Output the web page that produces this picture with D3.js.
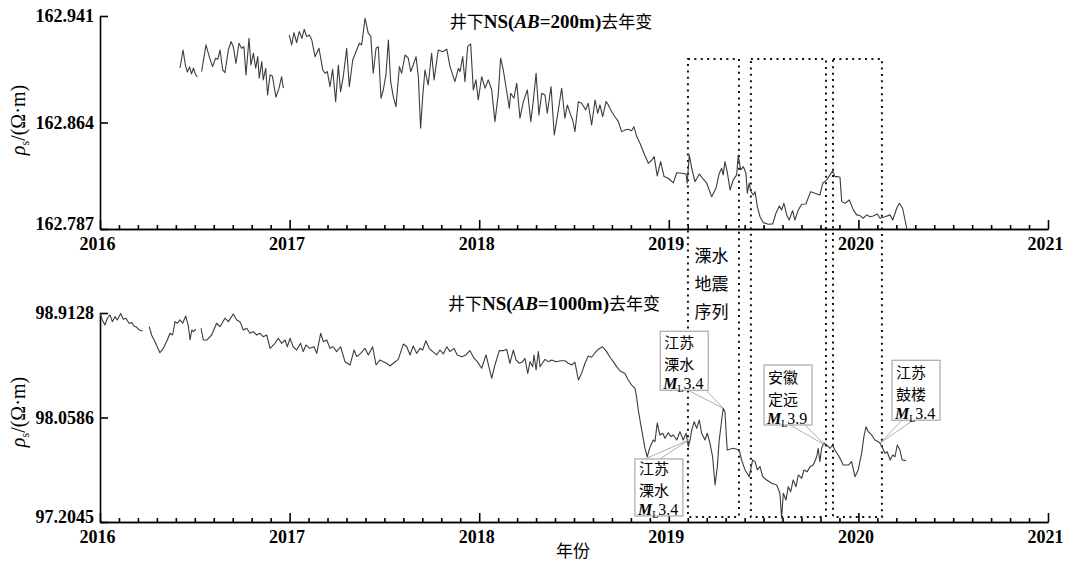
<!DOCTYPE html>
<html>
<head>
<meta charset="utf-8">
<script src="https://cdn.jsdelivr.net/npm/d3@7"></script>
<style>
  body { margin: 0; background: #fff; }
  .tick text { font-family: "Liberation Serif", serif; font-weight: bold; font-size: 18px; fill: #000; }
  .domain, .tick line { stroke: #000; stroke-width: 1.6; }
</style>
</head>
<body>
<div id="chart"></div>
<script>
let width = 1071;
let height = 562;

////////////////////////////////
//   Data
////////////////////////////////
// [decimal year, rho_s]; null marks a gap in the record
let shallowSeries = [
  [2016.422,162.9034],[2016.438,162.9164],[2016.451,162.9049],[2016.461,162.9005],[2016.472,162.9042],[2016.483,162.8991],[2016.493,162.9034],[2016.501,162.8998],[2016.512,162.8969],
  [2016.524,null],
  [2016.536,162.9008],[2016.559,162.9201],[2016.576,162.9116],[2016.594,162.9044],[2016.610,162.9105],[2016.621,162.9097],[2016.633,162.9164],[2016.647,162.9020],[2016.659,162.9000],[2016.677,162.9164],
  [2016.691,162.9225],[2016.703,162.9188],[2016.717,162.9068],[2016.733,162.9213],[2016.747,162.9177],[2016.759,162.9188],[2016.770,162.8984],[2016.786,162.9249],[2016.796,162.9056],[2016.809,162.9141],
  [2016.821,162.9032],[2016.832,162.9116],[2016.840,162.8960],[2016.853,162.9080],[2016.861,162.8948],[2016.874,162.9032],[2016.884,162.8839],[2016.897,162.8984],[2016.909,162.8977],[2016.928,162.8823],
  [2016.944,162.8888],[2016.958,162.8971],[2016.967,162.8888],
  [2016.980,null],
  [2016.998,162.9273],[2017.011,162.9201],[2017.023,162.9290],[2017.037,162.9217],[2017.051,162.9297],[2017.065,162.9249],[2017.077,162.9314],[2017.090,162.9261],[2017.104,162.9273],[2017.117,162.9237],
  [2017.134,162.9116],[2017.155,162.9177],[2017.175,162.9020],[2017.187,162.8996],[2017.199,162.9008],[2017.213,162.8899],[2017.227,162.9025],[2017.243,162.8791],[2017.257,162.9056],[2017.269,162.8863],
  [2017.283,162.8971],[2017.301,162.9177],[2017.315,162.8899],[2017.333,162.9092],[2017.350,162.9152],[2017.368,162.9213],[2017.380,162.9201],[2017.398,162.9394],[2017.415,162.9285],[2017.428,162.9266],
  [2017.441,162.8996],[2017.456,162.9177],[2017.468,162.9188],[2017.482,162.8815],[2017.494,162.8875],[2017.508,162.8984],[2017.521,162.9237],[2017.533,162.8935],[2017.547,162.8827],[2017.561,162.8755],
  [2017.579,162.9044],[2017.591,162.8996],[2017.609,162.9128],[2017.626,162.9105],[2017.639,162.9008],[2017.652,162.9056],[2017.667,162.9116],[2017.679,162.8971],[2017.691,162.8598],[2017.702,162.8827],
  [2017.714,162.9020],[2017.731,162.8911],[2017.749,162.9141],[2017.762,162.8948],[2017.784,162.9164],[2017.807,162.9152],[2017.829,162.9170],[2017.846,162.9044],[2017.872,162.8935],[2017.890,162.9032],
  [2017.899,162.9008],[2017.913,162.9116],[2017.925,162.8935],[2017.939,162.9188],[2017.955,162.9208],[2017.969,162.8875],[2017.983,162.8948],[2017.995,162.8803],[2018.013,162.8971],[2018.031,162.8888],
  [2018.048,162.8948],[2018.066,162.8875],[2018.083,162.8646],[2018.101,162.8851],[2018.113,162.9105],[2018.127,162.9020],[2018.148,162.8839],[2018.159,162.8743],[2018.166,162.8851],[2018.183,162.8815],
  [2018.198,162.8924],[2018.215,162.8671],[2018.233,162.8791],[2018.254,162.8875],[2018.272,162.8646],[2018.285,162.8791],[2018.300,162.8996],[2018.315,162.8695],[2018.330,162.8851],[2018.347,162.8839],
  [2018.359,162.8707],[2018.379,162.8899],[2018.396,162.8550],[2018.412,162.8682],[2018.435,162.8888],[2018.452,162.8671],[2018.465,162.8767],[2018.482,162.8695],[2018.493,162.8658],[2018.505,162.8574],
  [2018.523,162.8791],[2018.540,162.8779],[2018.562,162.8731],[2018.575,162.8779],[2018.593,162.8622],[2018.611,162.8803],[2018.625,162.8707],[2018.637,162.8767],[2018.651,162.8682],[2018.669,162.8791],
  [2018.681,162.8767],[2018.699,162.8718],[2018.716,162.8682],[2018.734,162.8646],[2018.751,162.8574],[2018.769,162.8586],[2018.786,162.8591],[2018.804,162.8581],[2018.816,162.8610],[2018.831,162.8538],
  [2018.848,162.8490],[2018.869,162.8418],[2018.892,162.8345],[2018.910,162.8369],[2018.923,162.8393],[2018.939,162.8254],[2018.957,162.8357],[2018.975,162.8249],[2018.997,162.8237],[2019.024,162.8203],
  [2019.042,162.8277],[2019.068,162.8273],[2019.091,162.8268],[2019.097,162.8201],[2019.108,162.8405],[2019.121,162.8309],[2019.138,162.8212],[2019.161,162.8268],[2019.182,162.8230],[2019.200,162.8201],
  [2019.226,162.8104],[2019.249,162.8165],[2019.266,162.8273],[2019.279,162.8309],[2019.287,162.8261],[2019.296,162.8357],[2019.308,162.8285],[2019.323,162.8152],[2019.340,162.8225],[2019.358,162.8261],
  [2019.366,162.8405],[2019.379,162.8297],[2019.393,162.8321],[2019.407,162.8273],[2019.414,162.8128],[2019.424,162.8201],[2019.433,162.8140],[2019.446,162.8116],[2019.455,162.8140],[2019.467,162.8032],
  [2019.481,162.7959],[2019.498,162.7916],[2019.525,162.7904],[2019.548,162.7907],[2019.565,162.7984],[2019.583,162.8037],[2019.595,162.8008],[2019.607,162.8056],[2019.622,162.7972],[2019.635,162.7935],
  [2019.653,162.8003],[2019.665,162.7935],[2019.683,162.8008],[2019.701,162.8049],[2019.723,162.8051],[2019.748,162.8140],[2019.771,162.8128],[2019.797,162.8116],[2019.812,162.8201],[2019.833,162.8225],
  [2019.850,162.8261],[2019.864,162.8290],[2019.876,162.8249],[2019.889,162.8249],[2019.903,162.8244],[2019.912,162.8068],[2019.929,162.8056],[2019.952,162.8080],[2019.973,162.8008],[2019.991,162.7972],
  [2020.008,162.7967],[2020.026,162.7948],[2020.044,162.7972],[2020.061,162.7959],[2020.078,162.7964],[2020.100,162.7979],[2020.114,162.7948],[2020.140,162.7959],[2020.167,162.7972],[2020.181,162.7935],
  [2020.202,162.8020],[2020.216,162.8056],[2020.233,162.8020],[2020.246,162.7935],[2020.255,162.7875]
];

let deepSeries = [
  [2016.000,98.913],[2016.012,98.856],[2016.026,98.815],[2016.039,98.870],[2016.053,98.897],[2016.065,98.842],[2016.079,98.883],[2016.091,98.856],[2016.109,98.909],[2016.123,98.861],
  [2016.137,98.870],[2016.153,98.829],[2016.167,98.834],[2016.179,98.807],[2016.194,98.796],[2016.207,98.774],[2016.225,98.766],
  [2016.242,null],
  [2016.260,98.801],[2016.272,98.733],[2016.290,98.678],[2016.316,98.588],[2016.334,98.624],[2016.355,98.692],[2016.369,98.747],[2016.383,98.733],[2016.396,98.842],[2016.408,98.829],
  [2016.422,98.856],[2016.436,98.829],[2016.452,98.888],[2016.466,98.807],[2016.475,98.692],[2016.484,98.774],[2016.492,98.760],[2016.506,98.780],
  [2016.520,null],
  [2016.533,98.788],[2016.545,98.692],[2016.563,98.692],[2016.589,98.733],[2016.615,98.829],[2016.633,98.801],[2016.659,98.870],[2016.677,98.842],[2016.703,98.905],[2016.721,98.856],
  [2016.738,98.842],[2016.756,98.774],[2016.774,98.788],[2016.791,98.747],[2016.809,98.760],[2016.826,98.733],[2016.844,98.747],[2016.861,98.719],[2016.879,98.733],[2016.897,98.624],
  [2016.923,98.665],[2016.940,98.706],[2016.958,98.665],[2016.976,98.692],[2016.988,98.637],[2017.002,98.706],[2017.019,98.637],[2017.037,98.610],[2017.058,98.665],[2017.072,98.597],
  [2017.086,98.651],[2017.107,98.624],[2017.129,98.637],[2017.143,98.583],[2017.164,98.747],[2017.178,98.678],[2017.196,98.692],[2017.213,98.624],[2017.230,98.637],[2017.248,98.597],
  [2017.269,98.637],[2017.292,98.515],[2017.319,98.488],[2017.340,98.610],[2017.354,98.556],[2017.375,98.583],[2017.398,98.624],[2017.415,98.570],[2017.438,98.637],[2017.456,98.488],
  [2017.477,98.529],[2017.494,98.515],[2017.512,98.502],[2017.529,98.480],[2017.547,98.502],[2017.573,98.534],[2017.600,98.659],[2017.618,98.637],[2017.635,98.570],[2017.652,98.643],
  [2017.670,98.583],[2017.688,98.624],[2017.702,98.610],[2017.719,98.686],[2017.736,98.624],[2017.755,98.597],[2017.776,98.570],[2017.793,98.610],[2017.811,98.578],[2017.829,98.637],
  [2017.846,98.597],[2017.867,98.624],[2017.884,98.570],[2017.908,98.556],[2017.930,98.570],[2017.951,98.605],[2017.973,98.543],[2017.990,98.515],[2018.013,98.461],[2018.036,98.570],
  [2018.047,98.502],[2018.066,98.379],[2018.083,98.488],[2018.106,98.605],[2018.127,98.605],[2018.145,98.616],[2018.162,98.502],[2018.180,98.610],[2018.194,98.529],[2018.211,98.502],
  [2018.229,98.515],[2018.241,98.543],[2018.256,98.419],[2018.268,98.515],[2018.282,98.474],[2018.289,98.570],[2018.300,98.447],[2018.312,98.597],[2018.321,98.474],[2018.333,98.502],
  [2018.347,98.534],[2018.364,98.515],[2018.382,98.529],[2018.405,98.515],[2018.430,98.523],[2018.452,98.523],[2018.470,98.502],[2018.488,98.488],[2018.505,98.510],[2018.523,98.365],
  [2018.540,98.419],[2018.558,98.502],[2018.575,98.561],[2018.593,98.551],[2018.611,98.588],[2018.628,98.616],[2018.651,98.637],[2018.672,98.597],[2018.690,98.551],[2018.707,98.515],
  [2018.725,98.474],[2018.742,98.441],[2018.769,98.419],[2018.786,98.365],[2018.804,98.324],[2018.822,98.297],[2018.831,98.216],[2018.839,98.120],[2018.857,97.957],[2018.874,97.809],
  [2018.886,97.736],[2018.901,97.818],[2018.918,97.875],[2018.927,97.861],[2018.939,98.014],[2018.953,97.916],[2018.968,97.930],[2018.980,97.889],[2018.997,97.934],[2019.011,97.902],
  [2019.024,97.916],[2019.042,97.875],[2019.059,97.943],[2019.076,97.875],[2019.091,97.930],[2019.103,97.820],[2019.112,97.875],[2019.121,97.957],[2019.134,98.024],[2019.147,97.970],
  [2019.161,98.038],[2019.173,97.930],[2019.191,97.875],[2019.203,97.930],[2019.217,97.850],[2019.231,97.738],[2019.244,97.507],[2019.256,97.657],[2019.266,97.875],[2019.279,98.038],
  [2019.287,98.134],[2019.296,98.106],[2019.308,97.793],[2019.340,97.807],[2019.372,97.793],[2019.384,97.711],[2019.402,97.630],[2019.424,97.575],[2019.442,97.711],[2019.455,97.698],
  [2019.467,97.630],[2019.481,97.657],[2019.495,97.575],[2019.516,97.548],[2019.543,97.521],[2019.569,97.507],[2019.586,97.439],[2019.595,97.235],[2019.604,97.439],[2019.618,97.384],
  [2019.630,97.493],[2019.643,97.452],[2019.656,97.548],[2019.671,97.493],[2019.683,97.589],[2019.701,97.562],[2019.713,97.630],[2019.730,97.616],[2019.745,97.657],[2019.762,97.670],
  [2019.780,97.738],[2019.788,97.807],[2019.797,97.698],[2019.806,97.807],[2019.818,97.850],[2019.833,97.834],[2019.850,97.807],[2019.864,97.834],[2019.876,97.793],[2019.899,97.738],
  [2019.920,97.670],[2019.947,97.670],[2019.964,97.698],[2019.982,97.575],[2019.999,97.630],[2020.017,97.766],[2020.029,97.902],[2020.040,97.983],[2020.052,97.943],[2020.070,97.916],
  [2020.087,97.875],[2020.105,97.861],[2020.114,97.848],[2020.128,97.807],[2020.140,97.766],[2020.152,97.779],[2020.167,97.711],[2020.181,97.752],[2020.193,97.738],[2020.205,97.834],
  [2020.219,97.793],[2020.231,97.711],[2020.251,97.706]
];

let yearTicks = [2016, 2017, 2018, 2019, 2020, 2021];
let shallowTicks = [162.787, 162.864, 162.941];
let deepTicks = [97.2045, 98.0586, 98.9128];

// dotted windows (decimal year)
let windowStart = [2019.101, 2019.433, 2019.866];
let windowEnd = [2019.370, 2019.829, 2020.124];
let windowLabel = ["溧水", "地震", "序列"];

// earthquakes marked on the deep curve
let eventDates = [2019.106, 2019.287, 2019.824, 2020.114];
let eventValues = [97.875, 98.134, 97.834, 97.848];
let eventPlaces = [["江苏", "溧水"], ["江苏", "溧水"], ["安徽", "定远"], ["江苏", "鼓楼"]];
let eventMags = ["3.4", "3.4", "3.9", "3.4"];

// callout box placement relative to the event point (pixels)
let calloutLayout = [
  {dx: -54, dy: 19, h: 57, lead: [[10, 0], [25, 0]]},
  {dx: -63, dy: -77, h: 59, lead: [[28, 59], [46, 59]]},
  {dx: -61, dy: -80, h: 60, lead: [[26, 60], [41, 60]]},
  {dx: 12, dy: -83, h: 60, lead: [[10, 60], [21, 60]]}
];

const cjk = '"Noto Sans CJK SC", sans-serif';
const times = '"Liberation Serif", serif';

/////////////////////////////
//   Setup Chart Elements
/////////////////////////////
let svg = d3.select("#chart")
  .append("svg")
  .attr("width", width)
  .attr("height", height)
  .style("background", "#fff");

let x = d3.scaleLinear().domain([2016, 2021]).range([100, 1048]);
let yShallow = d3.scaleLinear().domain([162.787, 162.941]).range([229, 16]);
let yDeep = d3.scaleLinear().domain([97.2045, 98.9128]).range([522, 313]);

let minorTicks = d3.range(2016, 2021, 0.1)
  .map(d => Math.round(d * 10) / 10)
  .filter(d => !Number.isInteger(d));

function drawAxes(y, ticks, fmt) {
  let base = y.range()[0];
  svg.append("g")
    .attr("transform", "translate(0," + base + ")")
    .call(d3.axisBottom(x).tickValues(minorTicks).tickSize(-4).tickSizeOuter(0).tickFormat(""));
  let xa = svg.append("g")
    .attr("transform", "translate(0," + base + ")")
    .call(d3.axisBottom(x).tickValues(yearTicks).tickSize(-9).tickSizeOuter(0).tickPadding(8).tickFormat(d3.format("d")));
  xa.selectAll("text").attr("dx", -3);
  let ya = svg.append("g")
    .attr("transform", "translate(100,0)")
    .call(d3.axisLeft(y).tickValues(ticks).tickSize(-8).tickSizeOuter(0).tickPadding(6).tickFormat(d3.format(fmt)));
  // lowest label sits a little higher so it clears the year labels
  ya.selectAll("text").attr("dy", d => d === ticks[0] ? "0.02em" : "0.32em");
}

drawAxes(yShallow, shallowTicks, ".3f");
drawAxes(yDeep, deepTicks, ".4f");

// y labels  ρs/(Ω·m)
function yLabel(cy) {
  let t = svg.append("text")
    .attr("transform", "translate(25," + cy + ") rotate(-90)")
    .attr("text-anchor", "middle")
    .attr("font-family", times)
    .attr("font-size", "20px");
  t.append("tspan").attr("font-style", "italic").text("ρ");
  t.append("tspan").attr("font-size", "12px").attr("dy", 4).text("s");
  t.append("tspan").attr("dy", -4).text("/(Ω·m)");
}
yLabel(120);
yLabel(412);

// panel titles
function title(cx, by, ab) {
  let t = svg.append("text")
    .attr("x", cx).attr("y", by)
    .attr("text-anchor", "middle")
    .attr("font-size", "17px")
    .attr("font-family", cjk);
  t.append("tspan").text("井下");
  t.append("tspan").attr("font-family", times).attr("font-weight", "bold").attr("font-size", "19px").text("NS(");
  t.append("tspan").attr("font-family", times).attr("font-weight", "bold").attr("font-style", "italic").attr("font-size", "19px").text("AB");
  t.append("tspan").attr("font-family", times).attr("font-weight", "bold").attr("font-size", "19px").text("=" + ab + "m)");
  t.append("tspan").text("去年变");
}
title(551, 28, "200");
title(554, 310, "1000");

svg.append("text")
  .attr("x", 573).attr("y", 557)
  .attr("text-anchor", "middle")
  .attr("font-family", cjk)
  .attr("font-size", "17px")
  .text("年份");

///////////////////////////
//   Dotted windows
///////////////////////////
let boxTop = yShallow(162.910);
let boxBottom = yDeep(97.245);
svg.append("g")
  .selectAll("rect")
  .data(windowStart)
  .enter()
  .append("rect")
    .attr("x", d => x(d))
    .attr("y", boxTop)
    .attr("width", (d, i) => x(windowEnd[i]) - x(d))
    .attr("height", boxBottom - boxTop)
    .attr("fill", "none")
    .attr("stroke", "#111")
    .attr("stroke-width", 2)
    .attr("stroke-dasharray", "2,4.4");

let wx = (x(windowStart[0]) + x(windowEnd[0])) / 2;
let wl = svg.append("text")
  .attr("text-anchor", "middle")
  .attr("font-family", cjk)
  .attr("font-size", "17px");
windowLabel.forEach(function(s, i) {
  wl.append("tspan").attr("x", wx - 2).attr("y", 262 + i * 28).text(s);
});

///////////////////////////
//   Drawing the curves
///////////////////////////
function drawCurve(series, y) {
  svg.append("path")
    .datum(series)
    .attr("fill", "none")
    .attr("stroke", "#3c3c3c")
    .attr("stroke-width", 1.1)
    .attr("stroke-linejoin", "round")
    .attr("d", d3.line()
      .defined(d => d[1] !== null)
      .x(d => x(d[0]))
      .y(d => y(d[1])));
}
drawCurve(shallowSeries, yShallow);
drawCurve(deepSeries, yDeep);

///////////////////////////
//   Callouts
///////////////////////////
eventDates.forEach(function(date, i) {
  let px = x(date), py = yDeep(eventValues[i]);
  let lay = calloutLayout[i];
  let bx = px + lay.dx, by = py + lay.dy;
  let g = svg.append("g");
  lay.lead.forEach(function(a) {
    g.append("line")
      .attr("x1", bx + a[0]).attr("y1", by + a[1])
      .attr("x2", px).attr("y2", py)
      .attr("stroke", "#9a9a9a")
      .attr("stroke-width", 0.8);
  });
  g.append("rect")
    .attr("x", bx).attr("y", by)
    .attr("width", 48).attr("height", lay.h)
    .attr("fill", "#fff")
    .attr("stroke", "#a8a8a8")
    .attr("stroke-width", 1.2);
  let t = g.append("text")
    .attr("font-family", cjk)
    .attr("font-size", "15px");
  eventPlaces[i].forEach(function(s, k) {
    t.append("tspan").attr("x", bx + 4).attr("y", by + lay.h - 42 + k * 22).text(s);
  });
  t.append("tspan").attr("x", bx + 3).attr("y", by + lay.h - 1)
    .attr("font-family", times).attr("font-size", "16px")
    .attr("font-weight", "bold").attr("font-style", "italic").text("M");
  t.append("tspan").attr("font-family", times).attr("font-size", "10px").attr("dy", 3).text("L");
  t.append("tspan").attr("font-family", times).attr("font-size", "16px").attr("dy", -3).text(eventMags[i]);
});
</script>
</body>
</html>
